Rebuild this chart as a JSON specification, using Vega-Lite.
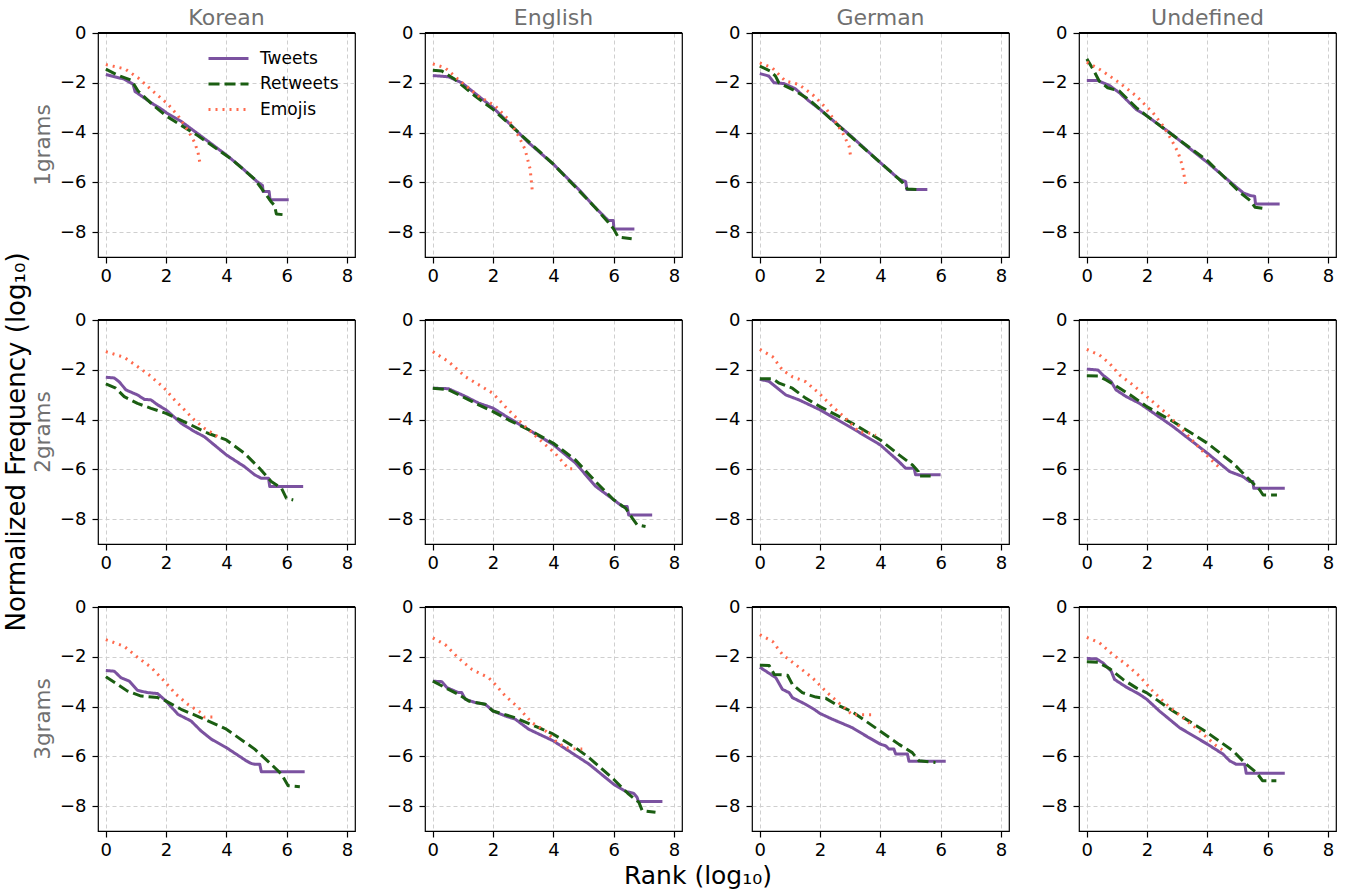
{
  "$schema": "https://vega.github.io/schema/vega-lite/v6.json",
  "padding": {"left": 3, "top": 7, "right": 5, "bottom": 0},
  "background": "white",
  "config": {
    "font": "DejaVu Sans",
    "view": {"stroke": "black", "strokeWidth": 1.2},
    "axis": {
      "grid": true, "gridDash": [4, 3], "gridColor": "#cfcfcf", "gridWidth": 1,
      "domain": false, "tickColor": "black", "tickSize": 6, "tickWidth": 1.2,
      "labelFontSize": 18, "labelColor": "black", "labelFont": "DejaVu Sans",
      "labelFlush": false, "title": null
    },
    "axisX": {"labelPadding": 4},
    "axisY": {"labelPadding": 6, "gridOpacity": {"condition": {"test": "datum.value == 0", "value": 0}, "value": 1}}
  },
  "data": {"values": [
    {"lang":"Korean","gram":"1grams","series":"Tweets","rank":0,"freq":-1.67},
    {"lang":"Korean","gram":"1grams","series":"Tweets","rank":0.6,"freq":-1.85},
    {"lang":"Korean","gram":"1grams","series":"Tweets","rank":0.9,"freq":-2.05},
    {"lang":"Korean","gram":"1grams","series":"Tweets","rank":0.97,"freq":-2.35},
    {"lang":"Korean","gram":"1grams","series":"Tweets","rank":1.5,"freq":-2.8},
    {"lang":"Korean","gram":"1grams","series":"Tweets","rank":1.9,"freq":-3.1},
    {"lang":"Korean","gram":"1grams","series":"Tweets","rank":2.0,"freq":-3.2},
    {"lang":"Korean","gram":"1grams","series":"Tweets","rank":2.5,"freq":-3.55},
    {"lang":"Korean","gram":"1grams","series":"Tweets","rank":3.0,"freq":-4.0},
    {"lang":"Korean","gram":"1grams","series":"Tweets","rank":3.5,"freq":-4.45},
    {"lang":"Korean","gram":"1grams","series":"Tweets","rank":4.0,"freq":-4.9},
    {"lang":"Korean","gram":"1grams","series":"Tweets","rank":4.5,"freq":-5.4},
    {"lang":"Korean","gram":"1grams","series":"Tweets","rank":5.0,"freq":-5.95},
    {"lang":"Korean","gram":"1grams","series":"Tweets","rank":5.2,"freq":-6.13},
    {"lang":"Korean","gram":"1grams","series":"Tweets","rank":5.22,"freq":-6.37},
    {"lang":"Korean","gram":"1grams","series":"Tweets","rank":5.42,"freq":-6.37},
    {"lang":"Korean","gram":"1grams","series":"Tweets","rank":5.45,"freq":-6.7},
    {"lang":"Korean","gram":"1grams","series":"Tweets","rank":6.07,"freq":-6.7},
    {"lang":"Korean","gram":"1grams","series":"Retweets","rank":0,"freq":-1.45},
    {"lang":"Korean","gram":"1grams","series":"Retweets","rank":0.4,"freq":-1.7},
    {"lang":"Korean","gram":"1grams","series":"Retweets","rank":0.85,"freq":-1.9},
    {"lang":"Korean","gram":"1grams","series":"Retweets","rank":1.07,"freq":-2.33},
    {"lang":"Korean","gram":"1grams","series":"Retweets","rank":1.6,"freq":-2.93},
    {"lang":"Korean","gram":"1grams","series":"Retweets","rank":2.0,"freq":-3.33},
    {"lang":"Korean","gram":"1grams","series":"Retweets","rank":3.06,"freq":-4.13},
    {"lang":"Korean","gram":"1grams","series":"Retweets","rank":4.17,"freq":-5.07},
    {"lang":"Korean","gram":"1grams","series":"Retweets","rank":4.94,"freq":-5.87},
    {"lang":"Korean","gram":"1grams","series":"Retweets","rank":5.5,"freq":-6.8},
    {"lang":"Korean","gram":"1grams","series":"Retweets","rank":5.6,"freq":-6.93},
    {"lang":"Korean","gram":"1grams","series":"Retweets","rank":5.66,"freq":-7.27},
    {"lang":"Korean","gram":"1grams","series":"Retweets","rank":5.88,"freq":-7.3},
    {"lang":"Korean","gram":"1grams","series":"Emojis","rank":0,"freq":-1.27},
    {"lang":"Korean","gram":"1grams","series":"Emojis","rank":0.63,"freq":-1.44},
    {"lang":"Korean","gram":"1grams","series":"Emojis","rank":1.07,"freq":-1.8},
    {"lang":"Korean","gram":"1grams","series":"Emojis","rank":1.5,"freq":-2.27},
    {"lang":"Korean","gram":"1grams","series":"Emojis","rank":2.07,"freq":-2.87},
    {"lang":"Korean","gram":"1grams","series":"Emojis","rank":2.4,"freq":-3.33},
    {"lang":"Korean","gram":"1grams","series":"Emojis","rank":2.73,"freq":-3.93},
    {"lang":"Korean","gram":"1grams","series":"Emojis","rank":2.95,"freq":-4.4},
    {"lang":"Korean","gram":"1grams","series":"Emojis","rank":3.06,"freq":-4.8},
    {"lang":"Korean","gram":"1grams","series":"Emojis","rank":3.12,"freq":-5.2},

    {"lang":"English","gram":"1grams","series":"Tweets","rank":0,"freq":-1.71},
    {"lang":"English","gram":"1grams","series":"Tweets","rank":0.52,"freq":-1.76},
    {"lang":"English","gram":"1grams","series":"Tweets","rank":0.96,"freq":-2.0},
    {"lang":"English","gram":"1grams","series":"Tweets","rank":1.51,"freq":-2.53},
    {"lang":"English","gram":"1grams","series":"Tweets","rank":2.0,"freq":-3.0},
    {"lang":"English","gram":"1grams","series":"Tweets","rank":2.62,"freq":-3.73},
    {"lang":"English","gram":"1grams","series":"Tweets","rank":3.17,"freq":-4.4},
    {"lang":"English","gram":"1grams","series":"Tweets","rank":4.0,"freq":-5.27},
    {"lang":"English","gram":"1grams","series":"Tweets","rank":4.83,"freq":-6.27},
    {"lang":"English","gram":"1grams","series":"Tweets","rank":5.38,"freq":-7.0},
    {"lang":"English","gram":"1grams","series":"Tweets","rank":5.82,"freq":-7.53},
    {"lang":"English","gram":"1grams","series":"Tweets","rank":5.99,"freq":-7.53},
    {"lang":"English","gram":"1grams","series":"Tweets","rank":6.01,"freq":-7.87},
    {"lang":"English","gram":"1grams","series":"Tweets","rank":6.69,"freq":-7.87},
    {"lang":"English","gram":"1grams","series":"Retweets","rank":0,"freq":-1.5},
    {"lang":"English","gram":"1grams","series":"Retweets","rank":0.3,"freq":-1.53},
    {"lang":"English","gram":"1grams","series":"Retweets","rank":0.74,"freq":-1.87},
    {"lang":"English","gram":"1grams","series":"Retweets","rank":1.4,"freq":-2.53},
    {"lang":"English","gram":"1grams","series":"Retweets","rank":2.0,"freq":-3.07},
    {"lang":"English","gram":"1grams","series":"Retweets","rank":4.0,"freq":-5.27},
    {"lang":"English","gram":"1grams","series":"Retweets","rank":5.38,"freq":-7.0},
    {"lang":"English","gram":"1grams","series":"Retweets","rank":5.82,"freq":-7.6},
    {"lang":"English","gram":"1grams","series":"Retweets","rank":6.0,"freq":-7.87},
    {"lang":"English","gram":"1grams","series":"Retweets","rank":6.15,"freq":-8.2},
    {"lang":"English","gram":"1grams","series":"Retweets","rank":6.6,"freq":-8.27},
    {"lang":"English","gram":"1grams","series":"Emojis","rank":0,"freq":-1.24},
    {"lang":"English","gram":"1grams","series":"Emojis","rank":0.41,"freq":-1.4},
    {"lang":"English","gram":"1grams","series":"Emojis","rank":0.85,"freq":-1.87},
    {"lang":"English","gram":"1grams","series":"Emojis","rank":1.51,"freq":-2.53},
    {"lang":"English","gram":"1grams","series":"Emojis","rank":2.07,"freq":-2.93},
    {"lang":"English","gram":"1grams","series":"Emojis","rank":2.51,"freq":-3.47},
    {"lang":"English","gram":"1grams","series":"Emojis","rank":2.84,"freq":-4.13},
    {"lang":"English","gram":"1grams","series":"Emojis","rank":3.06,"freq":-4.67},
    {"lang":"English","gram":"1grams","series":"Emojis","rank":3.23,"freq":-5.47},
    {"lang":"English","gram":"1grams","series":"Emojis","rank":3.3,"freq":-6.33},

    {"lang":"German","gram":"1grams","series":"Tweets","rank":0,"freq":-1.63},
    {"lang":"German","gram":"1grams","series":"Tweets","rank":0.3,"freq":-1.73},
    {"lang":"German","gram":"1grams","series":"Tweets","rank":0.47,"freq":-2.0},
    {"lang":"German","gram":"1grams","series":"Tweets","rank":0.8,"freq":-2.03},
    {"lang":"German","gram":"1grams","series":"Tweets","rank":1.18,"freq":-2.24},
    {"lang":"German","gram":"1grams","series":"Tweets","rank":1.63,"freq":-2.73},
    {"lang":"German","gram":"1grams","series":"Tweets","rank":2.0,"freq":-3.07},
    {"lang":"German","gram":"1grams","series":"Tweets","rank":2.96,"freq":-4.07},
    {"lang":"German","gram":"1grams","series":"Tweets","rank":3.99,"freq":-5.2},
    {"lang":"German","gram":"1grams","series":"Tweets","rank":4.62,"freq":-5.87},
    {"lang":"German","gram":"1grams","series":"Tweets","rank":4.84,"freq":-5.97},
    {"lang":"German","gram":"1grams","series":"Tweets","rank":4.88,"freq":-6.29},
    {"lang":"German","gram":"1grams","series":"Tweets","rank":5.56,"freq":-6.29},
    {"lang":"German","gram":"1grams","series":"Retweets","rank":0,"freq":-1.33},
    {"lang":"German","gram":"1grams","series":"Retweets","rank":0.35,"freq":-1.53},
    {"lang":"German","gram":"1grams","series":"Retweets","rank":0.52,"freq":-1.73},
    {"lang":"German","gram":"1grams","series":"Retweets","rank":0.63,"freq":-2.0},
    {"lang":"German","gram":"1grams","series":"Retweets","rank":1.18,"freq":-2.33},
    {"lang":"German","gram":"1grams","series":"Retweets","rank":1.63,"freq":-2.67},
    {"lang":"German","gram":"1grams","series":"Retweets","rank":2.0,"freq":-3.07},
    {"lang":"German","gram":"1grams","series":"Retweets","rank":3.99,"freq":-5.2},
    {"lang":"German","gram":"1grams","series":"Retweets","rank":4.62,"freq":-5.87},
    {"lang":"German","gram":"1grams","series":"Retweets","rank":4.73,"freq":-6.0},
    {"lang":"German","gram":"1grams","series":"Retweets","rank":4.9,"freq":-6.27},
    {"lang":"German","gram":"1grams","series":"Retweets","rank":5.23,"freq":-6.29},
    {"lang":"German","gram":"1grams","series":"Emojis","rank":0,"freq":-1.2},
    {"lang":"German","gram":"1grams","series":"Emojis","rank":0.41,"freq":-1.4},
    {"lang":"German","gram":"1grams","series":"Emojis","rank":0.85,"freq":-1.93},
    {"lang":"German","gram":"1grams","series":"Emojis","rank":1.3,"freq":-2.07},
    {"lang":"German","gram":"1grams","series":"Emojis","rank":1.8,"freq":-2.53},
    {"lang":"German","gram":"1grams","series":"Emojis","rank":2.13,"freq":-2.93},
    {"lang":"German","gram":"1grams","series":"Emojis","rank":2.46,"freq":-3.47},
    {"lang":"German","gram":"1grams","series":"Emojis","rank":2.74,"freq":-4.0},
    {"lang":"German","gram":"1grams","series":"Emojis","rank":2.96,"freq":-4.53},
    {"lang":"German","gram":"1grams","series":"Emojis","rank":3.01,"freq":-4.93},

    {"lang":"Undefined","gram":"1grams","series":"Tweets","rank":0,"freq":-1.91},
    {"lang":"Undefined","gram":"1grams","series":"Tweets","rank":0.36,"freq":-1.91},
    {"lang":"Undefined","gram":"1grams","series":"Tweets","rank":0.75,"freq":-2.11},
    {"lang":"Undefined","gram":"1grams","series":"Tweets","rank":1.08,"freq":-2.4},
    {"lang":"Undefined","gram":"1grams","series":"Tweets","rank":1.64,"freq":-3.07},
    {"lang":"Undefined","gram":"1grams","series":"Tweets","rank":1.99,"freq":-3.33},
    {"lang":"Undefined","gram":"1grams","series":"Tweets","rank":2.75,"freq":-4.0},
    {"lang":"Undefined","gram":"1grams","series":"Tweets","rank":4.0,"freq":-5.2},
    {"lang":"Undefined","gram":"1grams","series":"Tweets","rank":4.97,"freq":-6.2},
    {"lang":"Undefined","gram":"1grams","series":"Tweets","rank":5.2,"freq":-6.43},
    {"lang":"Undefined","gram":"1grams","series":"Tweets","rank":5.42,"freq":-6.53},
    {"lang":"Undefined","gram":"1grams","series":"Tweets","rank":5.57,"freq":-6.56},
    {"lang":"Undefined","gram":"1grams","series":"Tweets","rank":5.6,"freq":-6.87},
    {"lang":"Undefined","gram":"1grams","series":"Tweets","rank":6.4,"freq":-6.87},
    {"lang":"Undefined","gram":"1grams","series":"Retweets","rank":0,"freq":-1.04},
    {"lang":"Undefined","gram":"1grams","series":"Retweets","rank":0.24,"freq":-1.53},
    {"lang":"Undefined","gram":"1grams","series":"Retweets","rank":0.41,"freq":-1.93},
    {"lang":"Undefined","gram":"1grams","series":"Retweets","rank":0.69,"freq":-2.2},
    {"lang":"Undefined","gram":"1grams","series":"Retweets","rank":1.08,"freq":-2.33},
    {"lang":"Undefined","gram":"1grams","series":"Retweets","rank":1.64,"freq":-3.0},
    {"lang":"Undefined","gram":"1grams","series":"Retweets","rank":1.99,"freq":-3.33},
    {"lang":"Undefined","gram":"1grams","series":"Retweets","rank":4.0,"freq":-5.13},
    {"lang":"Undefined","gram":"1grams","series":"Retweets","rank":5.08,"freq":-6.4},
    {"lang":"Undefined","gram":"1grams","series":"Retweets","rank":5.42,"freq":-6.73},
    {"lang":"Undefined","gram":"1grams","series":"Retweets","rank":5.58,"freq":-7.0},
    {"lang":"Undefined","gram":"1grams","series":"Retweets","rank":5.97,"freq":-7.07},
    {"lang":"Undefined","gram":"1grams","series":"Emojis","rank":0,"freq":-1.17},
    {"lang":"Undefined","gram":"1grams","series":"Emojis","rank":0.52,"freq":-1.53},
    {"lang":"Undefined","gram":"1grams","series":"Emojis","rank":1.08,"freq":-2.0},
    {"lang":"Undefined","gram":"1grams","series":"Emojis","rank":1.64,"freq":-2.53},
    {"lang":"Undefined","gram":"1grams","series":"Emojis","rank":2.19,"freq":-3.2},
    {"lang":"Undefined","gram":"1grams","series":"Emojis","rank":2.53,"freq":-3.73},
    {"lang":"Undefined","gram":"1grams","series":"Emojis","rank":2.8,"freq":-4.27},
    {"lang":"Undefined","gram":"1grams","series":"Emojis","rank":3.03,"freq":-4.8},
    {"lang":"Undefined","gram":"1grams","series":"Emojis","rank":3.17,"freq":-5.33},
    {"lang":"Undefined","gram":"1grams","series":"Emojis","rank":3.28,"freq":-6.07},

    {"lang":"Korean","gram":"2grams","series":"Tweets","rank":0,"freq":-2.3},
    {"lang":"Korean","gram":"2grams","series":"Tweets","rank":0.28,"freq":-2.33},
    {"lang":"Korean","gram":"2grams","series":"Tweets","rank":0.44,"freq":-2.48},
    {"lang":"Korean","gram":"2grams","series":"Tweets","rank":0.67,"freq":-2.81},
    {"lang":"Korean","gram":"2grams","series":"Tweets","rank":1.05,"freq":-3.01},
    {"lang":"Korean","gram":"2grams","series":"Tweets","rank":1.28,"freq":-3.19},
    {"lang":"Korean","gram":"2grams","series":"Tweets","rank":1.5,"freq":-3.21},
    {"lang":"Korean","gram":"2grams","series":"Tweets","rank":1.72,"freq":-3.41},
    {"lang":"Korean","gram":"2grams","series":"Tweets","rank":2.0,"freq":-3.61},
    {"lang":"Korean","gram":"2grams","series":"Tweets","rank":2.5,"freq":-4.15},
    {"lang":"Korean","gram":"2grams","series":"Tweets","rank":2.94,"freq":-4.48},
    {"lang":"Korean","gram":"2grams","series":"Tweets","rank":3.27,"freq":-4.69},
    {"lang":"Korean","gram":"2grams","series":"Tweets","rank":4.0,"freq":-5.42},
    {"lang":"Korean","gram":"2grams","series":"Tweets","rank":4.6,"freq":-5.89},
    {"lang":"Korean","gram":"2grams","series":"Tweets","rank":4.94,"freq":-6.22},
    {"lang":"Korean","gram":"2grams","series":"Tweets","rank":5.16,"freq":-6.36},
    {"lang":"Korean","gram":"2grams","series":"Tweets","rank":5.4,"freq":-6.36},
    {"lang":"Korean","gram":"2grams","series":"Tweets","rank":5.44,"freq":-6.69},
    {"lang":"Korean","gram":"2grams","series":"Tweets","rank":6.55,"freq":-6.69},
    {"lang":"Korean","gram":"2grams","series":"Retweets","rank":0,"freq":-2.57},
    {"lang":"Korean","gram":"2grams","series":"Retweets","rank":0.33,"freq":-2.74},
    {"lang":"Korean","gram":"2grams","series":"Retweets","rank":0.61,"freq":-3.08},
    {"lang":"Korean","gram":"2grams","series":"Retweets","rank":1.05,"freq":-3.35},
    {"lang":"Korean","gram":"2grams","series":"Retweets","rank":1.5,"freq":-3.55},
    {"lang":"Korean","gram":"2grams","series":"Retweets","rank":2.0,"freq":-3.75},
    {"lang":"Korean","gram":"2grams","series":"Retweets","rank":2.83,"freq":-4.22},
    {"lang":"Korean","gram":"2grams","series":"Retweets","rank":3.39,"freq":-4.55},
    {"lang":"Korean","gram":"2grams","series":"Retweets","rank":4.0,"freq":-4.82},
    {"lang":"Korean","gram":"2grams","series":"Retweets","rank":4.6,"freq":-5.35},
    {"lang":"Korean","gram":"2grams","series":"Retweets","rank":5.1,"freq":-5.96},
    {"lang":"Korean","gram":"2grams","series":"Retweets","rank":5.49,"freq":-6.49},
    {"lang":"Korean","gram":"2grams","series":"Retweets","rank":5.83,"freq":-6.76},
    {"lang":"Korean","gram":"2grams","series":"Retweets","rank":5.99,"freq":-7.16},
    {"lang":"Korean","gram":"2grams","series":"Retweets","rank":6.22,"freq":-7.23},
    {"lang":"Korean","gram":"2grams","series":"Emojis","rank":0,"freq":-1.27},
    {"lang":"Korean","gram":"2grams","series":"Emojis","rank":0.61,"freq":-1.5},
    {"lang":"Korean","gram":"2grams","series":"Emojis","rank":1.05,"freq":-1.87},
    {"lang":"Korean","gram":"2grams","series":"Emojis","rank":1.44,"freq":-2.21},
    {"lang":"Korean","gram":"2grams","series":"Emojis","rank":1.94,"freq":-2.74},
    {"lang":"Korean","gram":"2grams","series":"Emojis","rank":2.28,"freq":-3.21},
    {"lang":"Korean","gram":"2grams","series":"Emojis","rank":2.61,"freq":-3.61},
    {"lang":"Korean","gram":"2grams","series":"Emojis","rank":2.94,"freq":-4.02},
    {"lang":"Korean","gram":"2grams","series":"Emojis","rank":3.27,"freq":-4.35},
    {"lang":"Korean","gram":"2grams","series":"Emojis","rank":3.72,"freq":-4.69},

    {"lang":"English","gram":"2grams","series":"Tweets","rank":0,"freq":-2.74},
    {"lang":"English","gram":"2grams","series":"Tweets","rank":0.52,"freq":-2.76},
    {"lang":"English","gram":"2grams","series":"Tweets","rank":1.08,"freq":-3.07},
    {"lang":"English","gram":"2grams","series":"Tweets","rank":1.52,"freq":-3.34},
    {"lang":"English","gram":"2grams","series":"Tweets","rank":2.0,"freq":-3.54},
    {"lang":"English","gram":"2grams","series":"Tweets","rank":2.52,"freq":-3.94},
    {"lang":"English","gram":"2grams","series":"Tweets","rank":3.18,"freq":-4.41},
    {"lang":"English","gram":"2grams","series":"Tweets","rank":4.0,"freq":-5.01},
    {"lang":"English","gram":"2grams","series":"Tweets","rank":4.73,"freq":-5.74},
    {"lang":"English","gram":"2grams","series":"Tweets","rank":5.4,"freq":-6.68},
    {"lang":"English","gram":"2grams","series":"Tweets","rank":6.0,"freq":-7.22},
    {"lang":"English","gram":"2grams","series":"Tweets","rank":6.29,"freq":-7.49},
    {"lang":"English","gram":"2grams","series":"Tweets","rank":6.45,"freq":-7.49},
    {"lang":"English","gram":"2grams","series":"Tweets","rank":6.5,"freq":-7.83},
    {"lang":"English","gram":"2grams","series":"Tweets","rank":7.28,"freq":-7.83},
    {"lang":"English","gram":"2grams","series":"Retweets","rank":0,"freq":-2.74},
    {"lang":"English","gram":"2grams","series":"Retweets","rank":0.52,"freq":-2.8},
    {"lang":"English","gram":"2grams","series":"Retweets","rank":1.08,"freq":-3.14},
    {"lang":"English","gram":"2grams","series":"Retweets","rank":1.52,"freq":-3.41},
    {"lang":"English","gram":"2grams","series":"Retweets","rank":2.0,"freq":-3.68},
    {"lang":"English","gram":"2grams","series":"Retweets","rank":2.52,"freq":-4.02},
    {"lang":"English","gram":"2grams","series":"Retweets","rank":3.18,"freq":-4.41},
    {"lang":"English","gram":"2grams","series":"Retweets","rank":4.0,"freq":-4.95},
    {"lang":"English","gram":"2grams","series":"Retweets","rank":4.73,"freq":-5.62},
    {"lang":"English","gram":"2grams","series":"Retweets","rank":5.4,"freq":-6.49},
    {"lang":"English","gram":"2grams","series":"Retweets","rank":6.0,"freq":-7.22},
    {"lang":"English","gram":"2grams","series":"Retweets","rank":6.4,"freq":-7.56},
    {"lang":"English","gram":"2grams","series":"Retweets","rank":6.62,"freq":-7.96},
    {"lang":"English","gram":"2grams","series":"Retweets","rank":6.78,"freq":-8.23},
    {"lang":"English","gram":"2grams","series":"Retweets","rank":7.06,"freq":-8.3},
    {"lang":"English","gram":"2grams","series":"Emojis","rank":0,"freq":-1.27},
    {"lang":"English","gram":"2grams","series":"Emojis","rank":0.52,"freq":-1.67},
    {"lang":"English","gram":"2grams","series":"Emojis","rank":1.08,"freq":-2.28},
    {"lang":"English","gram":"2grams","series":"Emojis","rank":1.63,"freq":-2.68},
    {"lang":"English","gram":"2grams","series":"Emojis","rank":2.0,"freq":-2.95},
    {"lang":"English","gram":"2grams","series":"Emojis","rank":2.41,"freq":-3.49},
    {"lang":"English","gram":"2grams","series":"Emojis","rank":2.96,"freq":-4.16},
    {"lang":"English","gram":"2grams","series":"Emojis","rank":3.51,"freq":-4.77},
    {"lang":"English","gram":"2grams","series":"Emojis","rank":4.07,"freq":-5.37},
    {"lang":"English","gram":"2grams","series":"Emojis","rank":4.51,"freq":-5.98},
    {"lang":"English","gram":"2grams","series":"Emojis","rank":4.73,"freq":-5.98},

    {"lang":"German","gram":"2grams","series":"Tweets","rank":0,"freq":-2.38},
    {"lang":"German","gram":"2grams","series":"Tweets","rank":0.31,"freq":-2.47},
    {"lang":"German","gram":"2grams","series":"Tweets","rank":0.86,"freq":-3.01},
    {"lang":"German","gram":"2grams","series":"Tweets","rank":1.3,"freq":-3.21},
    {"lang":"German","gram":"2grams","series":"Tweets","rank":2.0,"freq":-3.61},
    {"lang":"German","gram":"2grams","series":"Tweets","rank":3.07,"freq":-4.35},
    {"lang":"German","gram":"2grams","series":"Tweets","rank":4.0,"freq":-5.02},
    {"lang":"German","gram":"2grams","series":"Tweets","rank":4.62,"freq":-5.69},
    {"lang":"German","gram":"2grams","series":"Tweets","rank":4.84,"freq":-5.96},
    {"lang":"German","gram":"2grams","series":"Tweets","rank":5.12,"freq":-5.96},
    {"lang":"German","gram":"2grams","series":"Tweets","rank":5.17,"freq":-6.22},
    {"lang":"German","gram":"2grams","series":"Tweets","rank":6.0,"freq":-6.22},
    {"lang":"German","gram":"2grams","series":"Retweets","rank":0,"freq":-2.36},
    {"lang":"German","gram":"2grams","series":"Retweets","rank":0.42,"freq":-2.36},
    {"lang":"German","gram":"2grams","series":"Retweets","rank":0.64,"freq":-2.54},
    {"lang":"German","gram":"2grams","series":"Retweets","rank":1.08,"freq":-2.74},
    {"lang":"German","gram":"2grams","series":"Retweets","rank":1.52,"freq":-3.14},
    {"lang":"German","gram":"2grams","series":"Retweets","rank":2.0,"freq":-3.48},
    {"lang":"German","gram":"2grams","series":"Retweets","rank":3.07,"freq":-4.15},
    {"lang":"German","gram":"2grams","series":"Retweets","rank":4.0,"freq":-4.82},
    {"lang":"German","gram":"2grams","series":"Retweets","rank":4.62,"freq":-5.42},
    {"lang":"German","gram":"2grams","series":"Retweets","rank":5.06,"freq":-5.82},
    {"lang":"German","gram":"2grams","series":"Retweets","rank":5.26,"freq":-6.09},
    {"lang":"German","gram":"2grams","series":"Retweets","rank":5.29,"freq":-6.27},
    {"lang":"German","gram":"2grams","series":"Retweets","rank":5.67,"freq":-6.27},
    {"lang":"German","gram":"2grams","series":"Emojis","rank":0,"freq":-1.18},
    {"lang":"German","gram":"2grams","series":"Emojis","rank":0.42,"freq":-1.47},
    {"lang":"German","gram":"2grams","series":"Emojis","rank":0.75,"freq":-2.01},
    {"lang":"German","gram":"2grams","series":"Emojis","rank":1.08,"freq":-2.28},
    {"lang":"German","gram":"2grams","series":"Emojis","rank":1.52,"freq":-2.48},
    {"lang":"German","gram":"2grams","series":"Emojis","rank":1.97,"freq":-2.95},
    {"lang":"German","gram":"2grams","series":"Emojis","rank":2.41,"freq":-3.48},
    {"lang":"German","gram":"2grams","series":"Emojis","rank":2.85,"freq":-3.95},
    {"lang":"German","gram":"2grams","series":"Emojis","rank":3.29,"freq":-4.49},
    {"lang":"German","gram":"2grams","series":"Emojis","rank":3.73,"freq":-4.56},
    {"lang":"German","gram":"2grams","series":"Emojis","rank":3.85,"freq":-4.63},

    {"lang":"Undefined","gram":"2grams","series":"Tweets","rank":0,"freq":-1.97},
    {"lang":"Undefined","gram":"2grams","series":"Tweets","rank":0.37,"freq":-2.01},
    {"lang":"Undefined","gram":"2grams","series":"Tweets","rank":0.53,"freq":-2.21},
    {"lang":"Undefined","gram":"2grams","series":"Tweets","rank":0.81,"freq":-2.48},
    {"lang":"Undefined","gram":"2grams","series":"Tweets","rank":0.97,"freq":-2.81},
    {"lang":"Undefined","gram":"2grams","series":"Tweets","rank":1.31,"freq":-3.08},
    {"lang":"Undefined","gram":"2grams","series":"Tweets","rank":1.75,"freq":-3.35},
    {"lang":"Undefined","gram":"2grams","series":"Tweets","rank":1.99,"freq":-3.55},
    {"lang":"Undefined","gram":"2grams","series":"Tweets","rank":2.86,"freq":-4.28},
    {"lang":"Undefined","gram":"2grams","series":"Tweets","rank":4.0,"freq":-5.35},
    {"lang":"Undefined","gram":"2grams","series":"Tweets","rank":4.74,"freq":-6.09},
    {"lang":"Undefined","gram":"2grams","series":"Tweets","rank":5.18,"freq":-6.29},
    {"lang":"Undefined","gram":"2grams","series":"Tweets","rank":5.4,"freq":-6.49},
    {"lang":"Undefined","gram":"2grams","series":"Tweets","rank":5.51,"freq":-6.49},
    {"lang":"Undefined","gram":"2grams","series":"Tweets","rank":5.54,"freq":-6.76},
    {"lang":"Undefined","gram":"2grams","series":"Tweets","rank":6.57,"freq":-6.76},
    {"lang":"Undefined","gram":"2grams","series":"Retweets","rank":0,"freq":-2.24},
    {"lang":"Undefined","gram":"2grams","series":"Retweets","rank":0.37,"freq":-2.25},
    {"lang":"Undefined","gram":"2grams","series":"Retweets","rank":0.64,"freq":-2.41},
    {"lang":"Undefined","gram":"2grams","series":"Retweets","rank":1.09,"freq":-2.74},
    {"lang":"Undefined","gram":"2grams","series":"Retweets","rank":1.53,"freq":-3.08},
    {"lang":"Undefined","gram":"2grams","series":"Retweets","rank":1.99,"freq":-3.48},
    {"lang":"Undefined","gram":"2grams","series":"Retweets","rank":2.86,"freq":-4.08},
    {"lang":"Undefined","gram":"2grams","series":"Retweets","rank":4.0,"freq":-4.95},
    {"lang":"Undefined","gram":"2grams","series":"Retweets","rank":4.85,"freq":-5.75},
    {"lang":"Undefined","gram":"2grams","series":"Retweets","rank":5.4,"freq":-6.42},
    {"lang":"Undefined","gram":"2grams","series":"Retweets","rank":5.74,"freq":-6.83},
    {"lang":"Undefined","gram":"2grams","series":"Retweets","rank":5.85,"freq":-7.03},
    {"lang":"Undefined","gram":"2grams","series":"Retweets","rank":6.31,"freq":-7.03},
    {"lang":"Undefined","gram":"2grams","series":"Emojis","rank":0,"freq":-1.18},
    {"lang":"Undefined","gram":"2grams","series":"Emojis","rank":0.42,"freq":-1.41},
    {"lang":"Undefined","gram":"2grams","series":"Emojis","rank":0.75,"freq":-1.74},
    {"lang":"Undefined","gram":"2grams","series":"Emojis","rank":1.09,"freq":-2.21},
    {"lang":"Undefined","gram":"2grams","series":"Emojis","rank":1.53,"freq":-2.61},
    {"lang":"Undefined","gram":"2grams","series":"Emojis","rank":1.99,"freq":-3.08},
    {"lang":"Undefined","gram":"2grams","series":"Emojis","rank":2.64,"freq":-3.75},
    {"lang":"Undefined","gram":"2grams","series":"Emojis","rank":3.19,"freq":-4.42},
    {"lang":"Undefined","gram":"2grams","series":"Emojis","rank":3.74,"freq":-5.15},
    {"lang":"Undefined","gram":"2grams","series":"Emojis","rank":4.19,"freq":-5.69},
    {"lang":"Undefined","gram":"2grams","series":"Emojis","rank":4.46,"freq":-6.0},

    {"lang":"Korean","gram":"3grams","series":"Tweets","rank":0,"freq":-2.55},
    {"lang":"Korean","gram":"3grams","series":"Tweets","rank":0.28,"freq":-2.58},
    {"lang":"Korean","gram":"3grams","series":"Tweets","rank":0.5,"freq":-2.84},
    {"lang":"Korean","gram":"3grams","series":"Tweets","rank":0.78,"freq":-2.98},
    {"lang":"Korean","gram":"3grams","series":"Tweets","rank":1.05,"freq":-3.35},
    {"lang":"Korean","gram":"3grams","series":"Tweets","rank":1.39,"freq":-3.44},
    {"lang":"Korean","gram":"3grams","series":"Tweets","rank":1.72,"freq":-3.48},
    {"lang":"Korean","gram":"3grams","series":"Tweets","rank":2.0,"freq":-3.78},
    {"lang":"Korean","gram":"3grams","series":"Tweets","rank":2.39,"freq":-4.31},
    {"lang":"Korean","gram":"3grams","series":"Tweets","rank":2.83,"freq":-4.58},
    {"lang":"Korean","gram":"3grams","series":"Tweets","rank":3.16,"freq":-4.98},
    {"lang":"Korean","gram":"3grams","series":"Tweets","rank":3.5,"freq":-5.31},
    {"lang":"Korean","gram":"3grams","series":"Tweets","rank":4.0,"freq":-5.65},
    {"lang":"Korean","gram":"3grams","series":"Tweets","rank":4.5,"freq":-6.05},
    {"lang":"Korean","gram":"3grams","series":"Tweets","rank":4.66,"freq":-6.18},
    {"lang":"Korean","gram":"3grams","series":"Tweets","rank":4.83,"freq":-6.29},
    {"lang":"Korean","gram":"3grams","series":"Tweets","rank":4.94,"freq":-6.32},
    {"lang":"Korean","gram":"3grams","series":"Tweets","rank":5.11,"freq":-6.32},
    {"lang":"Korean","gram":"3grams","series":"Tweets","rank":5.16,"freq":-6.62},
    {"lang":"Korean","gram":"3grams","series":"Tweets","rank":6.6,"freq":-6.62},
    {"lang":"Korean","gram":"3grams","series":"Retweets","rank":0,"freq":-2.8},
    {"lang":"Korean","gram":"3grams","series":"Retweets","rank":0.39,"freq":-3.11},
    {"lang":"Korean","gram":"3grams","series":"Retweets","rank":0.72,"freq":-3.38},
    {"lang":"Korean","gram":"3grams","series":"Retweets","rank":1.17,"freq":-3.58},
    {"lang":"Korean","gram":"3grams","series":"Retweets","rank":1.72,"freq":-3.64},
    {"lang":"Korean","gram":"3grams","series":"Retweets","rank":2.0,"freq":-3.78},
    {"lang":"Korean","gram":"3grams","series":"Retweets","rank":2.5,"freq":-4.11},
    {"lang":"Korean","gram":"3grams","series":"Retweets","rank":3.16,"freq":-4.45},
    {"lang":"Korean","gram":"3grams","series":"Retweets","rank":4.0,"freq":-4.91},
    {"lang":"Korean","gram":"3grams","series":"Retweets","rank":4.94,"freq":-5.71},
    {"lang":"Korean","gram":"3grams","series":"Retweets","rank":5.49,"freq":-6.32},
    {"lang":"Korean","gram":"3grams","series":"Retweets","rank":5.83,"freq":-6.72},
    {"lang":"Korean","gram":"3grams","series":"Retweets","rank":6.05,"freq":-7.18},
    {"lang":"Korean","gram":"3grams","series":"Retweets","rank":6.44,"freq":-7.22},
    {"lang":"Korean","gram":"3grams","series":"Emojis","rank":0,"freq":-1.31},
    {"lang":"Korean","gram":"3grams","series":"Emojis","rank":0.61,"freq":-1.58},
    {"lang":"Korean","gram":"3grams","series":"Emojis","rank":1.05,"freq":-2.02},
    {"lang":"Korean","gram":"3grams","series":"Emojis","rank":1.5,"freq":-2.42},
    {"lang":"Korean","gram":"3grams","series":"Emojis","rank":1.94,"freq":-2.98},
    {"lang":"Korean","gram":"3grams","series":"Emojis","rank":2.33,"freq":-3.51},
    {"lang":"Korean","gram":"3grams","series":"Emojis","rank":2.72,"freq":-3.91},
    {"lang":"Korean","gram":"3grams","series":"Emojis","rank":3.16,"freq":-4.25},
    {"lang":"Korean","gram":"3grams","series":"Emojis","rank":3.27,"freq":-4.42},
    {"lang":"Korean","gram":"3grams","series":"Emojis","rank":3.66,"freq":-4.42},

    {"lang":"English","gram":"3grams","series":"Tweets","rank":0,"freq":-2.98},
    {"lang":"English","gram":"3grams","series":"Tweets","rank":0.3,"freq":-3.0},
    {"lang":"English","gram":"3grams","series":"Tweets","rank":0.47,"freq":-3.24},
    {"lang":"English","gram":"3grams","series":"Tweets","rank":0.85,"freq":-3.44},
    {"lang":"English","gram":"3grams","series":"Tweets","rank":0.96,"freq":-3.44},
    {"lang":"English","gram":"3grams","series":"Tweets","rank":1.08,"freq":-3.71},
    {"lang":"English","gram":"3grams","series":"Tweets","rank":1.41,"freq":-3.84},
    {"lang":"English","gram":"3grams","series":"Tweets","rank":1.74,"freq":-3.91},
    {"lang":"English","gram":"3grams","series":"Tweets","rank":2.0,"freq":-4.18},
    {"lang":"English","gram":"3grams","series":"Tweets","rank":2.41,"freq":-4.38},
    {"lang":"English","gram":"3grams","series":"Tweets","rank":2.74,"freq":-4.51},
    {"lang":"English","gram":"3grams","series":"Tweets","rank":3.18,"freq":-4.91},
    {"lang":"English","gram":"3grams","series":"Tweets","rank":4.0,"freq":-5.38},
    {"lang":"English","gram":"3grams","series":"Tweets","rank":5.18,"freq":-6.31},
    {"lang":"English","gram":"3grams","series":"Tweets","rank":6.0,"freq":-7.12},
    {"lang":"English","gram":"3grams","series":"Tweets","rank":6.4,"freq":-7.41},
    {"lang":"English","gram":"3grams","series":"Tweets","rank":6.67,"freq":-7.49},
    {"lang":"English","gram":"3grams","series":"Tweets","rank":6.78,"freq":-7.65},
    {"lang":"English","gram":"3grams","series":"Tweets","rank":6.82,"freq":-7.81},
    {"lang":"English","gram":"3grams","series":"Tweets","rank":7.62,"freq":-7.81},
    {"lang":"English","gram":"3grams","series":"Retweets","rank":0,"freq":-2.98},
    {"lang":"English","gram":"3grams","series":"Retweets","rank":0.41,"freq":-3.24},
    {"lang":"English","gram":"3grams","series":"Retweets","rank":0.85,"freq":-3.51},
    {"lang":"English","gram":"3grams","series":"Retweets","rank":1.19,"freq":-3.78},
    {"lang":"English","gram":"3grams","series":"Retweets","rank":1.74,"freq":-3.91},
    {"lang":"English","gram":"3grams","series":"Retweets","rank":2.0,"freq":-4.18},
    {"lang":"English","gram":"3grams","series":"Retweets","rank":2.74,"freq":-4.45},
    {"lang":"English","gram":"3grams","series":"Retweets","rank":3.51,"freq":-4.85},
    {"lang":"English","gram":"3grams","series":"Retweets","rank":4.0,"freq":-5.11},
    {"lang":"English","gram":"3grams","series":"Retweets","rank":4.73,"freq":-5.65},
    {"lang":"English","gram":"3grams","series":"Retweets","rank":5.18,"freq":-6.05},
    {"lang":"English","gram":"3grams","series":"Retweets","rank":6.0,"freq":-6.92},
    {"lang":"English","gram":"3grams","series":"Retweets","rank":6.5,"freq":-7.52},
    {"lang":"English","gram":"3grams","series":"Retweets","rank":6.84,"freq":-7.85},
    {"lang":"English","gram":"3grams","series":"Retweets","rank":6.95,"freq":-8.18},
    {"lang":"English","gram":"3grams","series":"Retweets","rank":7.39,"freq":-8.25},
    {"lang":"English","gram":"3grams","series":"Emojis","rank":0,"freq":-1.24},
    {"lang":"English","gram":"3grams","series":"Emojis","rank":0.41,"freq":-1.51},
    {"lang":"English","gram":"3grams","series":"Emojis","rank":0.85,"freq":-2.05},
    {"lang":"English","gram":"3grams","series":"Emojis","rank":1.3,"freq":-2.51},
    {"lang":"English","gram":"3grams","series":"Emojis","rank":1.85,"freq":-2.84},
    {"lang":"English","gram":"3grams","series":"Emojis","rank":2.07,"freq":-3.11},
    {"lang":"English","gram":"3grams","series":"Emojis","rank":2.41,"freq":-3.58},
    {"lang":"English","gram":"3grams","series":"Emojis","rank":2.85,"freq":-4.05},
    {"lang":"English","gram":"3grams","series":"Emojis","rank":3.29,"freq":-4.65},
    {"lang":"English","gram":"3grams","series":"Emojis","rank":3.74,"freq":-4.98},
    {"lang":"English","gram":"3grams","series":"Emojis","rank":4.07,"freq":-5.38},
    {"lang":"English","gram":"3grams","series":"Emojis","rank":4.4,"freq":-5.65},
    {"lang":"English","gram":"3grams","series":"Emojis","rank":4.73,"freq":-5.71},
    {"lang":"English","gram":"3grams","series":"Emojis","rank":4.96,"freq":-5.71},

    {"lang":"German","gram":"3grams","series":"Tweets","rank":0,"freq":-2.42},
    {"lang":"German","gram":"3grams","series":"Tweets","rank":0.53,"freq":-2.84},
    {"lang":"German","gram":"3grams","series":"Tweets","rank":0.75,"freq":-3.31},
    {"lang":"German","gram":"3grams","series":"Tweets","rank":0.97,"freq":-3.44},
    {"lang":"German","gram":"3grams","series":"Tweets","rank":1.08,"freq":-3.64},
    {"lang":"German","gram":"3grams","series":"Tweets","rank":1.52,"freq":-3.91},
    {"lang":"German","gram":"3grams","series":"Tweets","rank":1.8,"freq":-4.11},
    {"lang":"German","gram":"3grams","series":"Tweets","rank":2.0,"freq":-4.28},
    {"lang":"German","gram":"3grams","series":"Tweets","rank":2.41,"freq":-4.51},
    {"lang":"German","gram":"3grams","series":"Tweets","rank":3.07,"freq":-4.85},
    {"lang":"German","gram":"3grams","series":"Tweets","rank":3.62,"freq":-5.25},
    {"lang":"German","gram":"3grams","series":"Tweets","rank":4.0,"freq":-5.51},
    {"lang":"German","gram":"3grams","series":"Tweets","rank":4.18,"freq":-5.58},
    {"lang":"German","gram":"3grams","series":"Tweets","rank":4.29,"freq":-5.71},
    {"lang":"German","gram":"3grams","series":"Tweets","rank":4.45,"freq":-5.71},
    {"lang":"German","gram":"3grams","series":"Tweets","rank":4.51,"freq":-5.91},
    {"lang":"German","gram":"3grams","series":"Tweets","rank":4.9,"freq":-5.91},
    {"lang":"German","gram":"3grams","series":"Tweets","rank":4.95,"freq":-6.2},
    {"lang":"German","gram":"3grams","series":"Tweets","rank":6.17,"freq":-6.2},
    {"lang":"German","gram":"3grams","series":"Retweets","rank":0,"freq":-2.34},
    {"lang":"German","gram":"3grams","series":"Retweets","rank":0.31,"freq":-2.35},
    {"lang":"German","gram":"3grams","series":"Retweets","rank":0.48,"freq":-2.71},
    {"lang":"German","gram":"3grams","series":"Retweets","rank":0.92,"freq":-2.74},
    {"lang":"German","gram":"3grams","series":"Retweets","rank":1.08,"freq":-3.11},
    {"lang":"German","gram":"3grams","series":"Retweets","rank":1.41,"freq":-3.44},
    {"lang":"German","gram":"3grams","series":"Retweets","rank":1.86,"freq":-3.62},
    {"lang":"German","gram":"3grams","series":"Retweets","rank":2.19,"freq":-3.67},
    {"lang":"German","gram":"3grams","series":"Retweets","rank":2.52,"freq":-3.91},
    {"lang":"German","gram":"3grams","series":"Retweets","rank":3.07,"freq":-4.21},
    {"lang":"German","gram":"3grams","series":"Retweets","rank":4.0,"freq":-4.99},
    {"lang":"German","gram":"3grams","series":"Retweets","rank":4.62,"freq":-5.52},
    {"lang":"German","gram":"3grams","series":"Retweets","rank":5.06,"freq":-5.85},
    {"lang":"German","gram":"3grams","series":"Retweets","rank":5.28,"freq":-6.18},
    {"lang":"German","gram":"3grams","series":"Retweets","rank":5.83,"freq":-6.25},
    {"lang":"German","gram":"3grams","series":"Emojis","rank":0,"freq":-1.11},
    {"lang":"German","gram":"3grams","series":"Emojis","rank":0.42,"freq":-1.38},
    {"lang":"German","gram":"3grams","series":"Emojis","rank":0.75,"freq":-1.91},
    {"lang":"German","gram":"3grams","series":"Emojis","rank":1.19,"freq":-2.32},
    {"lang":"German","gram":"3grams","series":"Emojis","rank":1.75,"freq":-2.85},
    {"lang":"German","gram":"3grams","series":"Emojis","rank":2.19,"freq":-3.39},
    {"lang":"German","gram":"3grams","series":"Emojis","rank":2.63,"freq":-3.86},
    {"lang":"German","gram":"3grams","series":"Emojis","rank":3.07,"freq":-4.33},
    {"lang":"German","gram":"3grams","series":"Emojis","rank":3.4,"freq":-4.33},
    {"lang":"German","gram":"3grams","series":"Emojis","rank":3.73,"freq":-4.33},

    {"lang":"Undefined","gram":"3grams","series":"Tweets","rank":0,"freq":-2.07},
    {"lang":"Undefined","gram":"3grams","series":"Tweets","rank":0.31,"freq":-2.08},
    {"lang":"Undefined","gram":"3grams","series":"Tweets","rank":0.53,"freq":-2.24},
    {"lang":"Undefined","gram":"3grams","series":"Tweets","rank":0.81,"freq":-2.58},
    {"lang":"Undefined","gram":"3grams","series":"Tweets","rank":0.92,"freq":-2.91},
    {"lang":"Undefined","gram":"3grams","series":"Tweets","rank":1.31,"freq":-3.22},
    {"lang":"Undefined","gram":"3grams","series":"Tweets","rank":1.75,"freq":-3.51},
    {"lang":"Undefined","gram":"3grams","series":"Tweets","rank":1.99,"freq":-3.71},
    {"lang":"Undefined","gram":"3grams","series":"Tweets","rank":2.41,"freq":-4.18},
    {"lang":"Undefined","gram":"3grams","series":"Tweets","rank":3.08,"freq":-4.85},
    {"lang":"Undefined","gram":"3grams","series":"Tweets","rank":4.0,"freq":-5.51},
    {"lang":"Undefined","gram":"3grams","series":"Tweets","rank":4.52,"freq":-5.91},
    {"lang":"Undefined","gram":"3grams","series":"Tweets","rank":4.74,"freq":-6.18},
    {"lang":"Undefined","gram":"3grams","series":"Tweets","rank":4.96,"freq":-6.32},
    {"lang":"Undefined","gram":"3grams","series":"Tweets","rank":5.24,"freq":-6.32},
    {"lang":"Undefined","gram":"3grams","series":"Tweets","rank":5.29,"freq":-6.68},
    {"lang":"Undefined","gram":"3grams","series":"Tweets","rank":6.57,"freq":-6.68},
    {"lang":"Undefined","gram":"3grams","series":"Retweets","rank":0,"freq":-2.2},
    {"lang":"Undefined","gram":"3grams","series":"Retweets","rank":0.37,"freq":-2.22},
    {"lang":"Undefined","gram":"3grams","series":"Retweets","rank":0.75,"freq":-2.47},
    {"lang":"Undefined","gram":"3grams","series":"Retweets","rank":1.2,"freq":-2.91},
    {"lang":"Undefined","gram":"3grams","series":"Retweets","rank":1.64,"freq":-3.25},
    {"lang":"Undefined","gram":"3grams","series":"Retweets","rank":1.99,"freq":-3.45},
    {"lang":"Undefined","gram":"3grams","series":"Retweets","rank":2.86,"freq":-4.18},
    {"lang":"Undefined","gram":"3grams","series":"Retweets","rank":4.0,"freq":-5.05},
    {"lang":"Undefined","gram":"3grams","series":"Retweets","rank":4.85,"freq":-5.78},
    {"lang":"Undefined","gram":"3grams","series":"Retweets","rank":5.29,"freq":-6.32},
    {"lang":"Undefined","gram":"3grams","series":"Retweets","rank":5.63,"freq":-6.65},
    {"lang":"Undefined","gram":"3grams","series":"Retweets","rank":5.83,"freq":-6.98},
    {"lang":"Undefined","gram":"3grams","series":"Retweets","rank":6.29,"freq":-6.98},
    {"lang":"Undefined","gram":"3grams","series":"Emojis","rank":0,"freq":-1.22},
    {"lang":"Undefined","gram":"3grams","series":"Emojis","rank":0.42,"freq":-1.44},
    {"lang":"Undefined","gram":"3grams","series":"Emojis","rank":0.86,"freq":-1.91},
    {"lang":"Undefined","gram":"3grams","series":"Emojis","rank":1.31,"freq":-2.31},
    {"lang":"Undefined","gram":"3grams","series":"Emojis","rank":1.75,"freq":-2.78},
    {"lang":"Undefined","gram":"3grams","series":"Emojis","rank":2.19,"freq":-3.38},
    {"lang":"Undefined","gram":"3grams","series":"Emojis","rank":2.64,"freq":-3.91},
    {"lang":"Undefined","gram":"3grams","series":"Emojis","rank":3.19,"freq":-4.45},
    {"lang":"Undefined","gram":"3grams","series":"Emojis","rank":3.74,"freq":-4.98},
    {"lang":"Undefined","gram":"3grams","series":"Emojis","rank":4.3,"freq":-5.58},
    {"lang":"Undefined","gram":"3grams","series":"Emojis","rank":4.63,"freq":-5.85}
  ]},
  "facet": {
    "row": {
      "field": "gram", "type": "nominal", "sort": ["1grams", "2grams", "3grams"],
      "title": "Normalized Frequency (log₁₀)",
      "header": {
        "labelOrient": "left", "titleOrient": "left", "labelAngle": -90,
        "labelFontSize": 21.5, "labelColor": "#707070", "labelFont": "DejaVu Sans", "labelPadding": -7,
        "titleFontSize": 26, "titleFont": "DejaVu Sans", "titleFontWeight": "normal", "titleColor": "black", "titlePadding": -8
      }
    },
    "column": {
      "field": "lang", "type": "nominal", "sort": ["Korean", "English", "German", "Undefined"],
      "title": "Rank (log₁₀)",
      "header": {
        "labelOrient": "top", "titleOrient": "bottom",
        "labelFontSize": 22, "labelColor": "#707070", "labelFont": "DejaVu Sans", "labelPadding": -7,
        "titleFontSize": 25, "titleFont": "DejaVu Sans", "titleFontWeight": "normal", "titleColor": "black", "titlePadding": -6
      }
    }
  },
  "spacing": {"row": 24, "column": 28},
  "resolve": {"axis": {"x": "independent", "y": "independent"}},
  "spec": {
    "width": 257,
    "height": 224,
    "layer": [
      {
        "mark": {"type": "line", "strokeCap": "butt", "strokeJoin": "round"},
        "encoding": {
          "x": {"field": "rank", "type": "quantitative", "scale": {"domain": [-0.26, 8.27], "nice": false, "zero": false},
                "axis": {"values": [0, 2, 4, 6, 8], "format": "d"}},
          "y": {"field": "freq", "type": "quantitative", "scale": {"domain": [-9, 0], "nice": false, "zero": false},
                "axis": {"values": [0, -2, -4, -6, -8], "format": "d"}},
          "color": {"field": "series", "type": "nominal",
            "scale": {"domain": ["Tweets", "Retweets", "Emojis"], "range": ["#7b52a0", "#1b5e12", "#ff6a4d"]},
            "legend": {"orient": "none", "legendX": 109, "legendY": 14, "title": null, "symbolType": "M-1,0L3,0", "symbolSize": 400,
                       "labelFontSize": 17, "labelFont": "DejaVu Sans", "labelColor": "black", "rowPadding": 5.5, "labelOffset": 30}},
          "strokeDash": {"field": "series", "type": "nominal",
            "scale": {"domain": ["Tweets", "Retweets", "Emojis"], "range": [[1, 0], [11, 5], [2, 5]]},
            "legend": {"orient": "none", "legendX": 109, "legendY": 14, "title": null, "symbolType": "M-1,0L3,0", "symbolSize": 400,
                       "labelFontSize": 17, "labelFont": "DejaVu Sans", "labelColor": "black", "rowPadding": 5.5, "labelOffset": 30}},
          "strokeWidth": {"field": "series", "type": "nominal",
            "scale": {"domain": ["Tweets", "Retweets", "Emojis"], "range": [3, 3, 2.2]},
            "legend": {"orient": "none", "legendX": 109, "legendY": 14, "title": null, "symbolType": "M-1,0L3,0", "symbolSize": 400,
                       "labelFontSize": 17, "labelFont": "DejaVu Sans", "labelColor": "black", "rowPadding": 5.5, "labelOffset": 30}}
        }
      },
      {
        "mark": {"type": "rule", "color": "black", "strokeWidth": 1.2},
        "encoding": {"y": {"datum": 0}}
      }
    ]
  }
}
